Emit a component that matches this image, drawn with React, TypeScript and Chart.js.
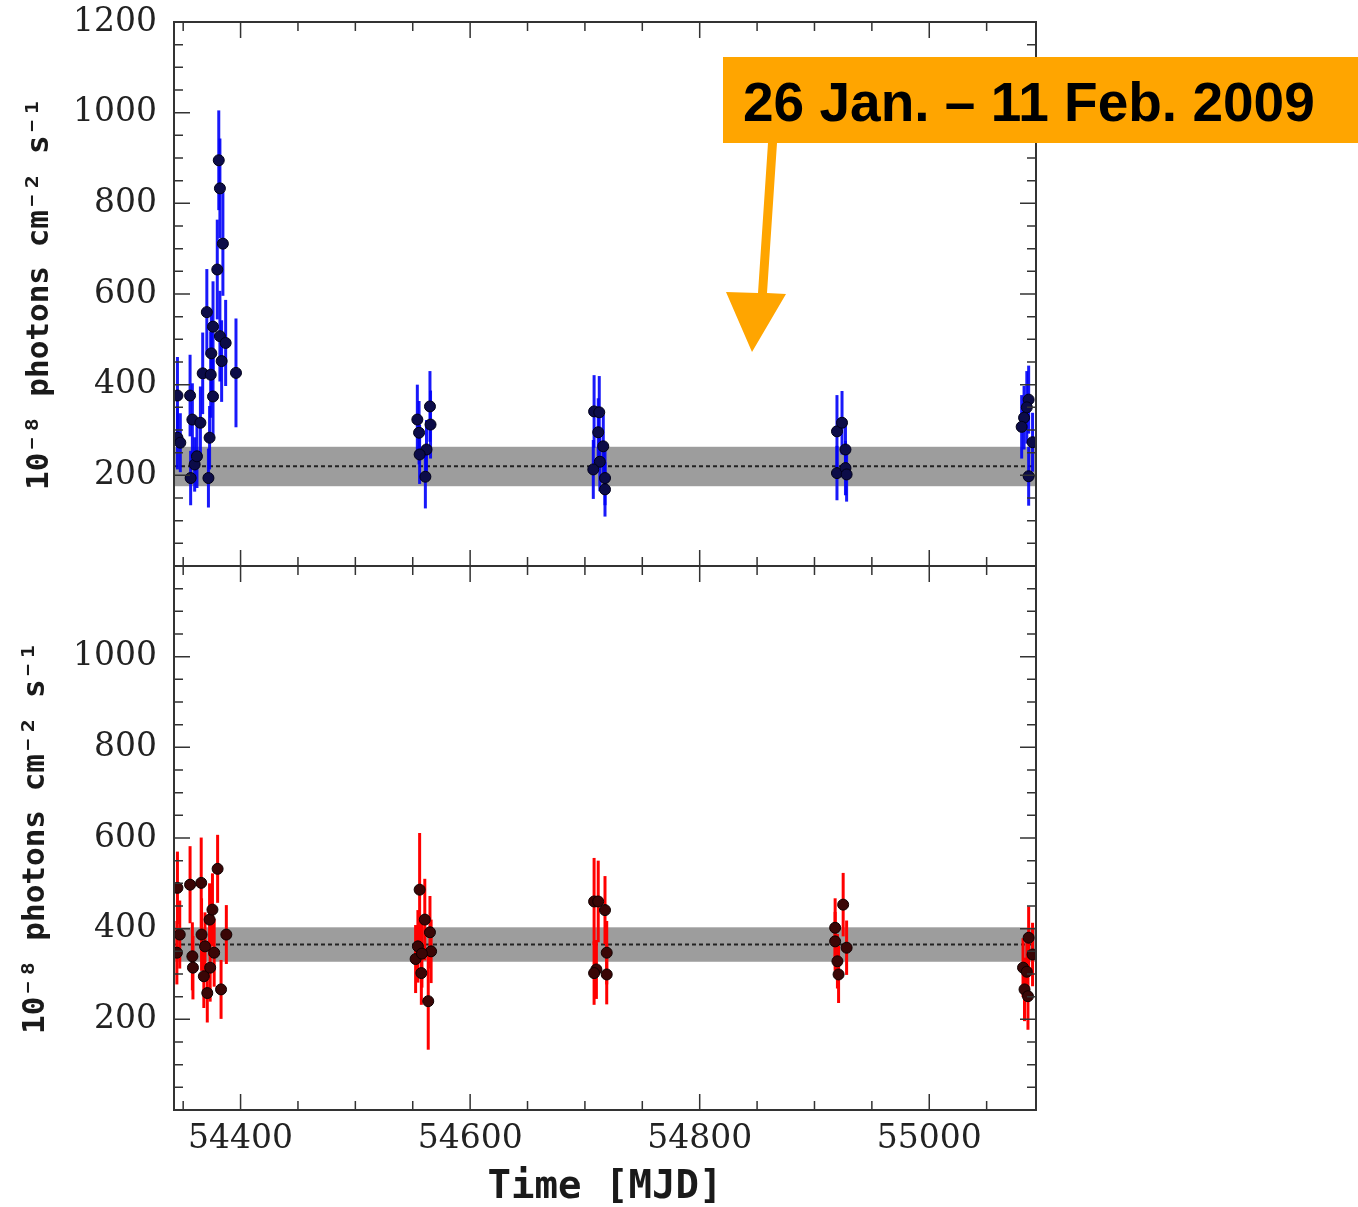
import React, { useEffect, useRef } from 'react';
import { Chart, registerables } from 'chart.js';

Chart.register(...registerables);

// ---------- axis ranges & tick labels ----------
const X_MIN = 54342;
const X_MAX = 55093;
const Y_MIN = 0;
const Y_MAX = 1200;
const X_TICK_LABELS = [54400, 54600, 54800, 55000];
const TOP_Y_TICK_LABELS = [200, 400, 600, 800, 1000, 1200];
const BOTTOM_Y_TICK_LABELS = [200, 400, 600, 800, 1000];
const Y_TITLE = '10⁻⁸ photons cm⁻² s⁻¹';
const X_TITLE = 'Time [MJD]';
const ANNOTATION = '26 Jan. – 11 Feb. 2009';

// ---------- top panel (blue) ----------
const topMjd = [
  54345, 54345, 54347.5, 54356, 54356.5, 54358, 54360, 54362, 54365, 54367,
  54370.6, 54372, 54373, 54374, 54374.5, 54376, 54376, 54379.7, 54381, 54382,
  54382, 54383.5, 54384.6, 54387, 54396,
  54565, 54554, 54565.5, 54555.5, 54562, 54556, 54561,
  54708, 54712.5, 54711.6, 54716, 54713, 54707.3, 54717.5, 54717.5,
  54919.6, 54924, 54927, 54919.6, 54927, 54928,
  55086.6, 55085, 55082.6, 55080.5, 55090, 55086.6,
];
const topFlux = [
  376, 283, 272, 376, 194, 323, 224, 242, 316, 425,
  560, 194, 283, 422, 469, 374, 528, 654, 895, 833,
  507, 452, 711, 492, 426,
  352, 323, 312, 294, 257, 246, 197,
  341, 339, 295, 264, 230, 213, 194, 169,
  297, 316, 257, 205, 216, 202,
  367, 350, 327, 307, 273, 198,
];
const topErr = [
  85, 70, 65, 90, 60, 80, 60, 70, 80, 90,
  95, 65, 70, 95, 95, 85, 100, 110, 110, 110,
  100, 90, 115, 95, 120,
  78, 77, 75, 70, 65, 65, 70,
  80, 80, 75, 70, 65, 65, 60, 60,
  80, 70, 65, 60, 60, 60,
  75, 80, 70, 70, 65, 65,
];
const TOP_BAND = [176, 263];
const TOP_MEAN = 220;

// ---------- bottom panel (red) ----------
const botMjd = [
  54345, 54347, 54344.5, 54356, 54358, 54358.5, 54365.7, 54366, 54368, 54369,
  54371, 54373, 54373.5, 54375.5, 54377, 54380, 54383, 54387.6,
  54556, 54560.5, 54565, 54566, 54554.5, 54552.5, 54558, 54557.5, 54563.5,
  54708, 54711.6, 54717.5, 54719, 54710, 54708, 54719,
  54925, 54918, 54918, 54928, 54920, 54921,
  55086.6, 55090, 55081.7, 55085, 55083, 55086,
];
const botFlux = [
  490, 387, 347, 497, 339, 314, 501, 387, 295, 361,
  258, 420, 314, 442, 347, 532, 266, 387,
  486, 420, 392, 350, 361, 333, 345, 302, 240,
  460, 460, 441, 347, 310, 302, 299,
  453, 402, 372, 358, 328, 299,
  380, 343, 314, 305, 266, 251,
];
const botErr = [
  80, 75, 70, 85, 75, 70, 100, 80, 70, 75,
  65, 80, 75, 80, 75, 75, 65, 65,
  125, 90, 80, 70, 80, 75, 75, 70, 107,
  96, 90, 75, 70, 65, 70, 66,
  70, 65, 65, 60, 60, 63,
  69, 70, 65, 65, 70, 74,
];
const BOT_BAND = [327, 403];
const BOT_MEAN = 365;

// ---------- helpers ----------
const CANVAS_W = 1358;
const TOP_H = 567;
const BOT_H = 641;

function makeDecor(band: number[], mean: number, errColor: string) {
  return {
    id: 'decor',
    beforeDatasetsDraw(chart: any) {
      const { ctx, chartArea: a, scales } = chart;
      const x = scales.x;
      const y = scales.y;
      ctx.save();
      ctx.beginPath();
      ctx.rect(a.left, a.top, a.right - a.left, a.bottom - a.top);
      ctx.clip();
      const yHi = y.getPixelForValue(band[1]);
      const yLo = y.getPixelForValue(band[0]);
      ctx.fillStyle = '#9d9d9d';
      ctx.fillRect(a.left, yHi, a.right - a.left, yLo - yHi);
      const ym = y.getPixelForValue(mean);
      ctx.setLineDash([4, 3]);
      ctx.strokeStyle = '#222';
      ctx.lineWidth = 2;
      ctx.beginPath();
      ctx.moveTo(a.left, ym);
      ctx.lineTo(a.right, ym);
      ctx.stroke();
      ctx.setLineDash([]);
      const ds = chart.data.datasets[0];
      const errs: number[] = ds.errors;
      ctx.strokeStyle = errColor;
      ctx.lineWidth = 3;
      ds.data.forEach((p: any, i: number) => {
        const px = x.getPixelForValue(p.x);
        ctx.beginPath();
        ctx.moveTo(px, y.getPixelForValue(p.y - errs[i]));
        ctx.lineTo(px, y.getPixelForValue(p.y + errs[i]));
        ctx.stroke();
      });
      ctx.restore();
    },
    afterDraw(chart: any) {
      const { ctx, chartArea: a, scales } = chart;
      const x = scales.x;
      const y = scales.y;
      ctx.save();
      ctx.strokeStyle = '#333';
      ctx.lineWidth = 1.5;
      const MAJ = 16;
      const MIN = 9;
      for (let v = 54350; v <= 55050; v += 50) {
        const px = x.getPixelForValue(v);
        const len = v % 200 === 0 ? MAJ : MIN;
        ctx.beginPath();
        ctx.moveTo(px, a.bottom);
        ctx.lineTo(px, a.bottom - len);
        ctx.moveTo(px, a.top);
        ctx.lineTo(px, a.top + len);
        ctx.stroke();
      }
      for (let v = 50; v < 1200; v += 50) {
        const py = y.getPixelForValue(v);
        const len = v % 200 === 0 ? MAJ : MIN;
        ctx.beginPath();
        ctx.moveTo(a.left, py);
        ctx.lineTo(a.left + len, py);
        ctx.moveTo(a.right, py);
        ctx.lineTo(a.right - len, py);
        ctx.stroke();
      }
      ctx.lineWidth = 2;
      ctx.strokeRect(a.left, a.top, a.right - a.left, a.bottom - a.top);
      ctx.restore();
    },
  };
}

const annotationPlugin = {
  id: 'annot',
  afterDraw(chart: any) {
    const { ctx } = chart;
    ctx.save();
    ctx.fillStyle = '#FFA500';
    ctx.fillRect(723, 57, 635, 86);
    ctx.beginPath();
    ctx.moveTo(768, 143);
    ctx.lineTo(777, 143);
    ctx.lineTo(767, 293);
    ctx.lineTo(786, 294);
    ctx.lineTo(752, 352);
    ctx.lineTo(726, 292);
    ctx.lineTo(758, 293);
    ctx.closePath();
    ctx.fill();
    ctx.fillStyle = '#000';
    ctx.font = 'bold 55px "Liberation Sans", Arial, sans-serif';
    ctx.textAlign = 'left';
    ctx.textBaseline = 'alphabetic';
    ctx.fillText(ANNOTATION, 743, 121);
    ctx.restore();
  },
};

const tickFont = { family: '"DejaVu Serif", serif', size: 33 };
const titleFontY = { family: '"DejaVu Sans Mono", monospace', size: 31, weight: 'bold' as const, lineHeight: 1 };
const titleFontX = { family: '"DejaVu Sans Mono", monospace', size: 39, weight: 'bold' as const, lineHeight: 1 };

function yScale(labels: number[], titlePad: number) {
  return {
    type: 'linear' as const,
    min: Y_MIN,
    max: Y_MAX,
    afterFit: (s: any) => {
      s.width = 174;
      s.paddingTop = 0;
      s.paddingBottom = 0;
      s.paddingLeft = 0;
      s.paddingRight = 0;
    },
    afterBuildTicks: (s: any) => {
      s.ticks = labels.map((v) => ({ value: v }));
    },
    grid: { display: false, drawTicks: false },
    border: { display: false },
    ticks: {
      padding: 17,
      color: '#222',
      font: tickFont,
      callback: (v: any) => String(v),
    },
    title: {
      display: true,
      text: Y_TITLE,
      color: '#1a1a1a',
      font: titleFontY,
      padding: { top: titlePad, bottom: 0 },
    },
  };
}

function pointsOf(xs: number[], ys: number[]) {
  return xs.map((x, i) => ({ x, y: ys[i] }));
}

export default function App() {
  const topRef = useRef<HTMLCanvasElement>(null);
  const botRef = useRef<HTMLCanvasElement>(null);

  useEffect(() => {
    const top = new Chart(topRef.current as HTMLCanvasElement, {
      type: 'scatter',
      data: {
        datasets: [
          {
            data: pointsOf(topMjd, topFlux),
            errors: topErr,
            pointRadius: 5.5,
            pointBackgroundColor: '#0c0c48',
            pointBorderColor: '#000018',
            pointBorderWidth: 1,
            showLine: false,
          } as any,
        ],
      },
      options: {
        animation: false,
        responsive: false,
        devicePixelRatio: 1,
        layout: { autoPadding: false, padding: { left: 0, top: 22, right: 322, bottom: 1 } },
        plugins: { legend: { display: false }, tooltip: { enabled: false } },
        scales: {
          x: { type: 'linear', min: X_MIN, max: X_MAX, display: false },
          y: yScale(TOP_Y_TICK_LABELS, 24) as any,
        },
      } as any,
      plugins: [makeDecor(TOP_BAND, TOP_MEAN, 'rgba(0,0,250,0.9)'), annotationPlugin],
    });

    const bot = new Chart(botRef.current as HTMLCanvasElement, {
      type: 'scatter',
      data: {
        datasets: [
          {
            data: pointsOf(botMjd, botFlux),
            errors: botErr,
            pointRadius: 5.5,
            pointBackgroundColor: '#3a0606',
            pointBorderColor: '#100000',
            pointBorderWidth: 1,
            showLine: false,
          } as any,
        ],
      },
      options: {
        animation: false,
        responsive: false,
        devicePixelRatio: 1,
        layout: { autoPadding: false, padding: { left: 0, top: 0, right: 322, bottom: 0 } },
        plugins: { legend: { display: false }, tooltip: { enabled: false } },
        scales: {
          x: {
            type: 'linear',
            min: X_MIN,
            max: X_MAX,
            afterFit: (s: any) => {
              s.height = 97;
              s.paddingTop = 0;
              s.paddingBottom = 0;
              s.paddingLeft = 0;
              s.paddingRight = 0;
            },
            afterBuildTicks: (s: any) => {
              s.ticks = X_TICK_LABELS.map((v) => ({ value: v }));
            },
            grid: { display: false, drawTicks: false },
            border: { display: false },
            ticks: {
              padding: 10,
              color: '#222',
              font: tickFont,
              maxRotation: 0,
              autoSkip: false,
              callback: (v: any) => String(v),
            },
            title: {
              display: true,
              text: X_TITLE,
              color: '#1a1a1a',
              font: titleFontX,
              padding: { top: 0, bottom: 0 },
            },
          },
          y: yScale(BOTTOM_Y_TICK_LABELS, 20) as any,
        },
      } as any,
      plugins: [makeDecor(BOT_BAND, BOT_MEAN, '#ff0000')],
    });

    return () => {
      top.destroy();
      bot.destroy();
    };
  }, []);

  return (
    <div style={{ position: 'absolute', left: 0, top: 0, width: CANVAS_W, height: 1207, background: '#fff', overflow: 'hidden' }}>
      <canvas ref={topRef} width={CANVAS_W} height={TOP_H} style={{ position: 'absolute', left: 0, top: 0, display: 'block' }} />
      <canvas ref={botRef} width={CANVAS_W} height={BOT_H} style={{ position: 'absolute', left: 0, top: 566, display: 'block' }} />
    </div>
  );
}
